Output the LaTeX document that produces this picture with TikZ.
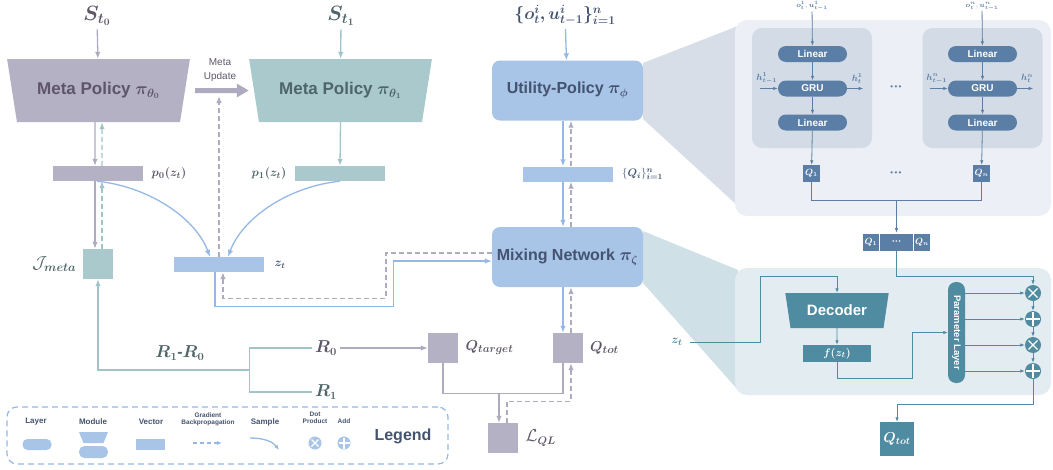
\documentclass[tikz,border=0pt]{standalone}
\usepackage{amsmath}
\usepackage{amssymb}
\usepackage{bm}
\usepackage[no-math]{fontspec}
\setmainfont{Liberation Sans}
\usepackage{tikz}
\usetikzlibrary{arrows.meta}
\usetikzlibrary{calc}
\usetikzlibrary{shapes}
\usetikzlibrary{positioning}
\usepackage{xcolor}

\definecolor{cpur}{HTML}{B4B1C5}
\definecolor{cpurln}{HTML}{AEABC1}
\definecolor{cpurtx}{HTML}{5E5668}
\definecolor{cteal}{HTML}{AAC9CD}
\definecolor{ctealln}{HTML}{9FC5C9}
\definecolor{ctealtx}{HTML}{4E6569}
\definecolor{cblue}{HTML}{A8C4E7}
\definecolor{cblueln}{HTML}{95B8E5}
\definecolor{cbluetx}{HTML}{435370}
\definecolor{csteel}{HTML}{5A7EA6}
\definecolor{cpanA}{HTML}{ECEFF5}
\definecolor{cpanAin}{HTML}{D3DBE6}
\definecolor{cprojA}{HTML}{D7DEE8}
\definecolor{cpetrol}{HTML}{4F8BA1}
\definecolor{cpanB}{HTML}{E3ECF0}
\definecolor{cprojB}{HTML}{CFE0E6}

\newcommand{\fsz}[1]{\fontsize{#1}{#1}\selectfont}

\begin{document}
\begin{tikzpicture}[x=1pt,y=-1pt,
    arrtip/.style={-{Latex[length=7pt,width=5.5pt]}},
    smalltip/.style={-{Latex[length=4.5pt,width=3.5pt]}},
    parr/.style={draw=cpurln,line width=1.3pt,arrtip},
    pline/.style={draw=cpurln,line width=1.3pt},
    tarr/.style={draw=ctealln,line width=1.3pt,arrtip},
    tline/.style={draw=ctealln,line width=1.3pt},
    barr/.style={draw=cblueln,line width=1.3pt,arrtip},
    pgrad/.style={parr,dash pattern=on 5pt off 3pt},
    tgrad/.style={tarr,dash pattern=on 5pt off 3pt},
    samp/.style={draw=cblueln,line width=1.3pt,arrtip},
    vecbox/.style={rectangle,minimum width=90,minimum height=15,inner sep=0pt},
    sqbox/.style={rectangle,minimum size=30,inner sep=0pt},
    modbox/.style={trapezium,trapezium stretches=true,shape border rotate=180,
        trapezium angle=66,minimum width=183,minimum height=63,inner sep=0pt,
        font=\fsz{17}\bfseries},
    blk/.style={rounded corners=8pt,fill=cblue,minimum width=151,minimum height=60,
        inner sep=0pt,text=cbluetx,font=\fsz{16}\bfseries},
    layerbox/.style={rounded corners=8pt,fill=csteel,minimum width=69,minimum height=16,
        inner sep=0pt,text=white,font=\fsz{10}\bfseries},
    qbox/.style={fill=csteel,minimum size=17,inner sep=0pt,text=white,font=\fsz{9}},
    qcell/.style={fill=csteel,draw=white,line width=0.6pt,minimum height=18,inner sep=0pt,
        text=white,font=\fsz{9}},
    hlbl/.style={font=\fsz{9},text=csteel,inner sep=0.5pt},
    sarr/.style={draw=csteel,line width=0.8pt,smalltip},
    sline/.style={draw=csteel,line width=0.8pt},
    karr/.style={draw=cpetrol,line width=0.8pt,smalltip},
    mulop/.style={circle,fill=cpetrol,minimum size=16,inner sep=0pt,
        path picture={\draw[white,line width=1.1pt]
          ($(path picture bounding box.center)+(-#1,-#1)$) -- ($(path picture bounding box.center)+(#1,#1)$)
          ($(path picture bounding box.center)+(-#1,#1)$) -- ($(path picture bounding box.center)+(#1,-#1)$);}},
    mulop/.default=4.5,
    addop/.style={circle,fill=cpetrol,minimum size=16,inner sep=0pt,
        path picture={\draw[white,line width=1.1pt]
          ($(path picture bounding box.center)+(-#1,0)$) -- ($(path picture bounding box.center)+(#1,0)$)
          ($(path picture bounding box.center)+(0,-#1)$) -- ($(path picture bounding box.center)+(0,#1)$);}},
    addop/.default=7,
    lgtxt/.style={font=\fsz{8}\bfseries,text=cbluetx,align=center}
  ]
  \useasboundingbox (0,0) rectangle (1053,469);

  % zoom panels
  \fill[cprojA] (643,63) -- (738,26) -- (738,206) -- (643,119) -- cycle;
  \node[fill=cpanA,rounded corners=12pt,minimum width=316,minimum height=196,inner sep=0pt] (panA) at (893,118) {};
  \fill[cprojB] (643,231) -- (738,270) -- (738,390) -- (643,283) -- cycle;
  \node[fill=cpanB,rounded corners=12pt,minimum width=316,minimum height=127,inner sep=0pt] (panB) at (893,331.5) {};

  % meta policies
  \node[font=\fsz{20},text=cpurtx] (s0) at (97,16) {$\bm{S_{t_0}}$};
  \node[modbox,fill=cpur,text=cpurtx] (mp0) at (98.5,90.5) {Meta Policy $\bm{\pi_{\theta_0}}$};
  \node[font=\fsz{20},text=ctealtx] (s1) at (341,16) {$\bm{S_{t_1}}$};
  \node[modbox,fill=cteal,text=ctealtx] (mp1) at (340.5,90.5) {Meta Policy $\bm{\pi_{\theta_1}}$};
  \draw[parr] (s0) -- (mp0);
  \draw[tarr] (s1) -- (mp1);
  \draw[draw=cpurln,line width=5pt,-{Triangle[length=12pt,width=13pt]},shorten <=10pt,shorten >=5pt] (mp0) -- (mp1);
  \node[font=\fontsize{10}{14}\selectfont,text=cpurtx,align=center] (mu) at (220,70) {Meta\\Update};

  \node[vecbox,fill=cpur] (pv0) at (98,173.5) {};
  \node[right=5pt of pv0,font=\fsz{13},text=cpurtx] (pl0) {$\bm{p_0(z_t)}$};
  \node[vecbox,fill=cteal] (pv1) at (340,173.5) {};
  \node[left=5pt of pv1,font=\fsz{13},text=ctealtx] (pl1) {$\bm{p_1(z_t)}$};
  \node[sqbox,fill=cteal] (jm) at (98,264) {};
  \node[left=3pt of jm,font=\fsz{17},text=ctealtx] (jml) {$\mathcal{J}_{\bm{meta}}$};
  \node[vecbox,fill=cblue] (zt) at (219,264.5) {};
  \node[right=7pt of zt,font=\fsz{12},text=cbluetx] (ztl) {$\bm{z_t}$};

  \draw[parr] ($(mp0.south)+(-3.5,0)$) -- ($(pv0.north)+(-3,0)$);
  \draw[tgrad] ($(pv0.north)+(4,0)$) -- ($(mp0.south)+(3.5,0)$);
  \draw[parr] ($(pv0.south)+(-3,0)$) -- ($(jm.north)+(-3,0)$);
  \draw[tgrad] ($(jm.north)+(4,0)$) -- ($(pv0.south)+(4,0)$);
  \draw[tarr] (mp1.south) -- (pv1.north);
  \coordinate (mutip) at (219,96);
  \draw[pgrad] (zt.north) -- (mutip);
  \draw[samp] ($(pv0.south)+(-1,0)$) .. controls +(50,5) and +(-15,-40) .. ($(zt.north)+(-9,0)$);
  \draw[samp] (pv1.south) .. controls +(-50,5) and +(15,-40) .. ($(zt.north)+(9,0)$);

  % utility and mixing
  \node[font=\fsz{18},text=cbluetx] (ou) at (565,15) {$\bm{\{o^i_t,u^i_{t-1}\}^n_{i=1}}$};
  \node[blk] (util) at (567.5,90.5) {Utility-Policy $\bm{\pi_\phi}$};
  \node[vecbox,fill=cblue] (qi) at (567.5,174) {};
  \node[right=6pt of qi,font=\fsz{11},text=cbluetx] (qil) {$\{\bm{Q_i}\}^{\bm n}_{\bm{i=1}}$};
  \node[blk] (mix) at (567.5,257) {Mixing Network $\bm{\pi_\zeta}$};
  \draw[barr] (ou) -- (util);
  \draw[barr] ($(util.south)+(-4.5,0)$) -- ($(qi.north)+(-4.5,0)$);
  \draw[pgrad] ($(qi.north)+(3.5,0)$) -- ($(util.south)+(3.5,0)$);
  \draw[barr] ($(qi.south)+(-4.5,0)$) -- ($(mix.north)+(-4.5,0)$);
  \draw[pgrad] ($(mix.north)+(3.5,0)$) -- ($(qi.south)+(3.5,0)$);
  \draw[barr] ($(zt.south)+(-4,0)$) -- ++(0,34) -| ($(mix.west)+(-98,4)$) -- ($(mix.west)+(0,4)$);
  \draw[pgrad] ($(mix.west)+(0,-4)$) -| ($(zt.south)+(167,26)$) -| ($(zt.south)+(4,0)$);

  % losses
  \node[sqbox,fill=cpur] (qtot) at (567.5,348) {};
  \node[right=4pt of qtot,font=\fsz{15},text=cpurtx] (qtotl) {$\bm{Q_{tot}}$};
  \node[sqbox,fill=cpur] (qtar) at (443,348) {};
  \node[right=4pt of qtar,font=\fsz{15},text=cpurtx] (qtarl) {$\bm{Q_{target}}$};
  \node[sqbox,fill=cpur] (lql) at (503,438) {};
  \node[right=4pt of lql,font=\fsz{16},text=cpurtx] (lqll) {$\mathcal{L}_{\bm{QL}}$};
  \draw[barr] ($(mix.south)+(-4.5,0)$) -- ($(qtot.north)+(-4.5,0)$);
  \draw[pgrad] ($(qtot.north)+(3.5,0)$) -- ($(mix.south)+(3.5,0)$);
  \draw[pline] (qtar.south) |- ($(qtot.south)+(-4.5,30)$) -- ($(qtot.south)+(-4.5,0)$);
  \draw[parr] ($(lql.north)+(-4,-30)$) -- ($(lql.north)+(-4,0)$);
  \draw[pgrad] ($(lql.north)+(4,0)$) |- ($(qtot.south)+(3.5,38)$) -- ($(qtot.south)+(3.5,0)$);

  \node[font=\fsz{16},text=cpurtx] (r0) at (326,348) {$\bm{R_0}$};
  \node[font=\fsz{16},text=ctealtx] (r1) at (326,392) {$\bm{R_1}$};
  \node[font=\fsz{16},text=ctealtx] (rdiff) at (180,353) {$\bm{R_1}$\textbf{-}$\bm{R_0}$};
  \draw[parr] (r0) -- (qtar);
  \draw[tline] (r0.west) -| ($(r1.west)+(-62,0)$) -- (r1.west);
  \draw[tarr] ($(r0.west)!0.5!(r1.west)+(-62,0)$) -| (jm.south);

  % utility zoom
  \node[fill=cpanAin,rounded corners=10pt,minimum width=120,minimum height=120,inner sep=0pt] (ag1) at (812,88) {};
  \node[fill=cpanAin,rounded corners=10pt,minimum width=120,minimum height=120,inner sep=0pt] (agn) at (982.5,88) {};
  \node[layerbox] (lina1) at (812.5,54) {Linear};
  \node[layerbox] (gru1) at (812.5,88.5) {GRU};
  \node[layerbox] (linb1) at (812.5,122.5) {Linear};
  \node[layerbox] (linan) at (982.5,54) {Linear};
  \node[layerbox] (grun) at (982.5,88.5) {GRU};
  \node[layerbox] (linbn) at (982.5,122.5) {Linear};
  \node[qbox] (q1) at (811.5,173.5) {$\bm{Q_1}$};
  \node[qbox] (qn) at (981.5,173.5) {$\bm{Q_n}$};
  \node[font=\fsz{7.5},text=csteel,inner sep=0.5pt] (in1) at (812,6) {$\bm{o^1_t},\bm{u^1_{t-1}}$};
  \node[font=\fsz{7.5},text=csteel,inner sep=0.5pt] (inn) at (982,6) {$\bm{o^n_t},\bm{u^n_{t-1}}$};
  \node[hlbl] (hl1) at ($(gru1.west)+(-11,-10)$) {$\bm{h^1_{t-1}}$};
  \node[hlbl] (hr1) at ($(gru1.east)+(10,-10)$) {$\bm{h^1_t}$};
  \node[hlbl] (hln) at ($(grun.west)+(-11,-10)$) {$\bm{h^n_{t-1}}$};
  \node[hlbl] (hrn) at ($(grun.east)+(10,-10)$) {$\bm{h^n_t}$};
  \node[font=\fsz{8},text=csteel] (dotsa) at (896,88) {•\,•\,•};
  \node[font=\fsz{8},text=csteel] (dotsb) at (896,174) {•\,•\,•};
  \draw[sarr] (in1) -- (lina1);
  \draw[sarr] (lina1) -- (gru1);
  \draw[sarr] (gru1) -- (linb1);
  \draw[sarr] (linb1) -- (q1);
  \draw[sarr] (inn) -- (linan);
  \draw[sarr] (linan) -- (grun);
  \draw[sarr] (grun) -- (linbn);
  \draw[sarr] (linbn) -- (qn);
  \draw[sarr] ($(gru1.west)+(-18,0)$) -- (gru1.west);
  \draw[sarr] (gru1.east) -- ++(16,0);
  \draw[sarr] ($(grun.west)+(-18,0)$) -- (grun.west);
  \draw[sarr] (grun.east) -- ++(16,0);
  \node[qcell,minimum width=17] (qv1) at (871,242) {$\bm{Q_1}$};
  \node[qcell,minimum width=34] (qvd) at (896.5,242) {\fsz{6}•\,•\,•};
  \node[qcell,minimum width=17] (qvn) at (922,242) {$\bm{Q_n}$};
  \draw[sline] (q1.south) -- ++(0,18) -| (qn.south);
  \draw[sarr] ($(q1.south)!0.5!(qn.south)+(0,18)$) -- (qvd.north);

  % mixing zoom
  \node[font=\fsz{13},text=cpetrol] (zt2) at (677,342) {$\bm{z_t}$};
  \node[modbox,fill=cpetrol,text=white,minimum width=104,minimum height=35,trapezium angle=73,font=\fsz{15}\bfseries] (dec) at (837,310.5) {Decoder};
  \node[fill=cpetrol,minimum width=68,minimum height=17,inner sep=0pt,text=white,font=\fsz{11}] (fz) at (837,353.5) {$\bm{f(z_t)}$};
  \node[fill=cpetrol,rounded corners=8pt,minimum width=17,minimum height=101,inner sep=0pt,text=white,font=\fsz{9.5}\bfseries] (par) at (956.5,332.5) {\rotatebox{-90}{Parameter Layer}};
  \node[mulop] (op1) at (1033,293) {};
  \node[addop] (op2) at (1033,319) {};
  \node[mulop] (op3) at (1033,345) {};
  \node[addop] (op4) at (1033,371) {};
  \node[fill=cpetrol,minimum size=34,inner sep=0pt,text=white,font=\fsz{14}] (qtot2) at (897,439) {$\bm{Q_{tot}}$};
  \draw[karr,shorten <=4pt] (zt2.east) -| ($(dec.north)+(-77,-16)$) -| (dec.north);
  \draw[karr] (dec) -- (fz);
  \draw[karr] (fz.south) -- ++(0,16) -| ($(par.west)+(-35,0)$) -- (par.west);
  \draw[karr] (qvd.south) -- ++(0,25) -| (op1.north);
  \draw[karr] (par.east |- op1) -- (op1);
  \draw[karr] (par.east |- op2) -- (op2);
  \draw[karr] (par.east |- op3) -- (op3);
  \draw[karr] (par.east |- op4) -- (op4);
  \draw[karr] (op1) -- (op2);
  \draw[karr] (op2) -- (op3);
  \draw[karr] (op3) -- (op4);
  \draw[karr] (op4.south) -- ++(0,25) -| (qtot2.north);

  % legend
  \node[draw=cblueln,line width=1.2pt,dash pattern=on 6pt off 4pt,rounded corners=10pt,minimum width=441,minimum height=57,inner sep=0pt] (legend) at (227.5,435.5) {};
  \node[lgtxt] (lgl) at (36,422) {Layer};
  \node[lgtxt] (lgm) at (93,422) {Module};
  \node[lgtxt] (lgv) at (151,422) {Vector};
  \node[lgtxt,font=\fontsize{6.5}{7}\selectfont\bfseries] (lgg) at (208,419) {Gradient\\Backpropagation};
  \node[lgtxt] (lgs) at (265,422) {Sample};
  \node[lgtxt,font=\fontsize{6.5}{7}\selectfont\bfseries] (lgd) at (315,418) {Dot\\Product};
  \node[lgtxt,font=\fontsize{6.5}{7}\selectfont\bfseries] (lga) at (344,421) {Add};
  \node[font=\fsz{16}\bfseries,text=cbluetx] (legtxt) at (403,436) {Legend};
  \node[fill=cblue,rounded corners=5pt,minimum width=29,minimum height=11,inner sep=0pt] (lglay) at (37,444.5) {};
  \fill[cblue] (79,432) -- (108,432) -- (103.5,443) -- (83.5,443) -- cycle;
  \node[fill=cblue,rounded corners=5.5pt,minimum width=29,minimum height=12,inner sep=0pt] (lgmodb) at (93.5,452) {};
  \node[fill=cblue,minimum width=29,minimum height=11,inner sep=0pt] (lgvec) at (150.5,444.5) {};
  \coordinate (lggs) at (193,443);
  \coordinate (lgge) at (222,443);
  \draw[draw=cblueln,line width=1.3pt,dash pattern=on 4pt off 3pt,-{Latex[length=5pt,width=4pt]}] (lggs) -- (lgge);
  \coordinate (lgss) at (250,438);
  \coordinate (lgse) at (279,450);
  \draw[draw=cblueln,line width=1.3pt,-{Latex[length=5pt,width=4pt]}] (lgss) .. controls +(15,0) and +(-6,-8) .. (lgse);
  \node[mulop=3.5,fill=cblue,minimum size=13] (lgdot) at (315,443) {};
  \node[addop=5.5,fill=cblue,minimum size=13] (lgadd) at (344,443) {};
\end{tikzpicture}
\end{document}
